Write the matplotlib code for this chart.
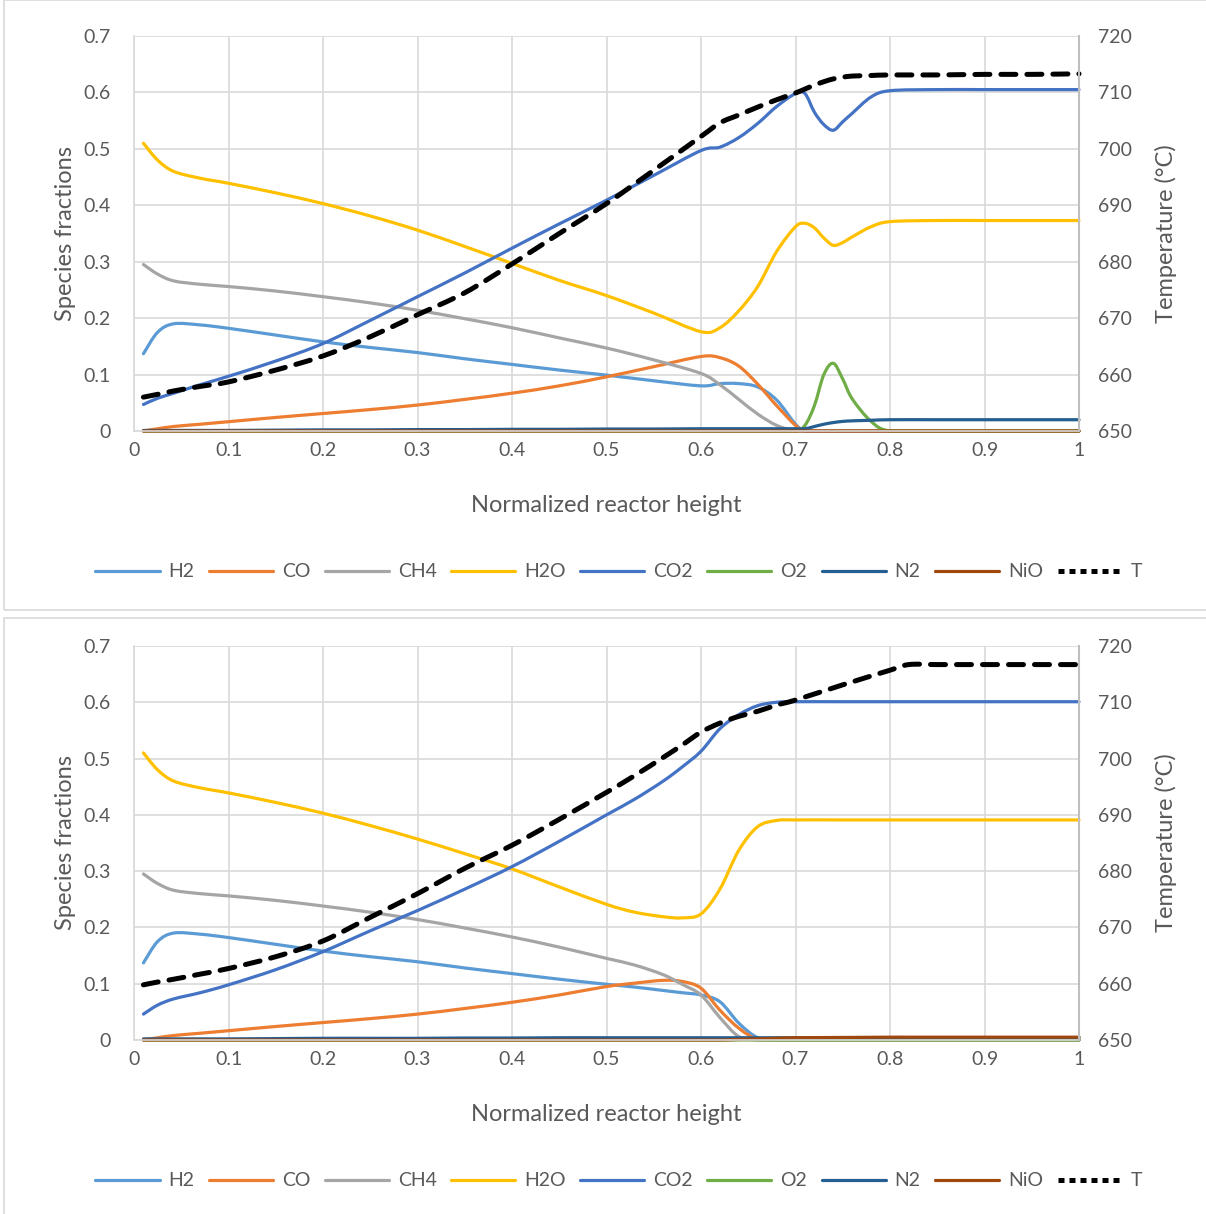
import matplotlib
matplotlib.use("Agg")
import matplotlib.pyplot as plt
from matplotlib.patches import Rectangle, PathPatch
from matplotlib.path import Path
from matplotlib.lines import Line2D

plt.rcParams['font.family'] = ['Lato', 'DejaVu Sans']

# ---- top panel data ----
x_top = [0.01, 0.025, 0.042, 0.07, 0.1, 0.15, 0.2, 0.25, 0.3, 0.35, 0.4, 0.45, 0.5, 0.55,
         0.6, 0.62, 0.64, 0.66, 0.68, 0.70, 0.71, 0.72, 0.73, 0.74, 0.75, 0.76, 0.78, 0.80,
         0.85, 0.9, 0.95, 1.0]
h2_top = [0.137, 0.175, 0.190, 0.188, 0.182, 0.170, 0.158, 0.148, 0.139, 0.128, 0.118, 0.108,
          0.099, 0.089, 0.080, 0.084, 0.084, 0.078, 0.055, 0.012, 0.0, 0.0, 0.0, 0.0, 0.0,
          0.0, 0.0, 0.0, 0.0, 0.0, 0.0, 0.0]
co_top = [0.0, 0.004, 0.008, 0.012, 0.0165, 0.024, 0.031, 0.038, 0.046, 0.056, 0.067, 0.080,
          0.096, 0.114, 0.132, 0.130, 0.115, 0.083, 0.045, 0.010, 0.0, 0.0, 0.0, 0.0, 0.0,
          0.0, 0.0, 0.0, 0.0, 0.0, 0.0, 0.0]
ch4_top = [0.295, 0.278, 0.266, 0.260, 0.256, 0.248, 0.238, 0.227, 0.214, 0.199, 0.183, 0.165,
           0.147, 0.126, 0.102, 0.082, 0.056, 0.030, 0.010, 0.0, 0.0, 0.0, 0.0, 0.0, 0.0,
           0.0, 0.0, 0.0, 0.0, 0.0, 0.0, 0.0]
h2o_top = [0.510, 0.480, 0.460, 0.448, 0.439, 0.422, 0.403, 0.381, 0.356, 0.327, 0.297, 0.267,
           0.240, 0.209, 0.176, 0.183, 0.213, 0.256, 0.318, 0.362, 0.368, 0.360, 0.342, 0.329,
           0.334, 0.344, 0.362, 0.371, 0.373, 0.373, 0.373, 0.373]
co2_top = [0.047, 0.058, 0.067, 0.082, 0.097, 0.124, 0.155, 0.196, 0.238, 0.280, 0.324, 0.367,
           0.409, 0.453, 0.497, 0.503, 0.520, 0.545, 0.575, 0.598, 0.598, 0.565, 0.543, 0.533,
           0.548, 0.563, 0.592, 0.603, 0.605, 0.605, 0.605, 0.605]
o2_top = [0.0, 0.0, 0.0, 0.0, 0.0, 0.0, 0.0, 0.0, 0.0, 0.0, 0.0, 0.0, 0.0, 0.0, 0.0, 0.0,
          0.0, 0.0, 0.0, 0.0, 0.010, 0.045, 0.100, 0.120, 0.092, 0.057, 0.017, 0.0, 0.0,
          0.0, 0.0, 0.0]
n2_top = [0.001, 0.001, 0.001, 0.001, 0.001, 0.0015, 0.002, 0.002, 0.0025, 0.0025, 0.003,
          0.003, 0.0035, 0.0035, 0.004, 0.004, 0.004, 0.004, 0.004, 0.004, 0.004, 0.008,
          0.012, 0.015, 0.017, 0.018, 0.019, 0.020, 0.020, 0.020, 0.020, 0.020]
nio_top = [0.0] * 32
t_top = [656.0, 656.5, 657.1, 657.9, 658.7, 660.8, 663.3, 666.7, 670.6, 674.5, 679.6, 685.0,
         690.3, 696.2, 702.2, 704.6, 706.0, 707.4, 708.7, 709.9, 710.6, 711.3, 711.9, 712.4,
         712.7, 712.9, 713.0, 713.1, 713.1, 713.2, 713.2, 713.3]

# ---- bottom panel data ----
x_bot = [0.01, 0.025, 0.042, 0.07, 0.1, 0.15, 0.2, 0.25, 0.3, 0.35, 0.4, 0.45, 0.5, 0.53,
         0.56, 0.58, 0.60, 0.62, 0.64, 0.66, 0.68, 0.70, 0.75, 0.80, 0.82, 0.85, 0.9, 0.95, 1.0]
h2_bot = [0.137, 0.175, 0.190, 0.188, 0.182, 0.170, 0.158, 0.148, 0.139, 0.128, 0.118, 0.108,
          0.099, 0.094, 0.088, 0.084, 0.080, 0.068, 0.030, 0.004, 0.0, 0.0, 0.0, 0.0, 0.0,
          0.0, 0.0, 0.0, 0.0]
co_bot = [0.0, 0.004, 0.008, 0.012, 0.0165, 0.024, 0.031, 0.038, 0.046, 0.056, 0.067, 0.080,
          0.095, 0.101, 0.106, 0.104, 0.092, 0.053, 0.021, 0.001, 0.0, 0.0, 0.0, 0.0, 0.0,
          0.0, 0.0, 0.0, 0.0]
ch4_bot = [0.295, 0.278, 0.266, 0.260, 0.256, 0.248, 0.238, 0.227, 0.214, 0.199, 0.183, 0.165,
           0.145, 0.133, 0.116, 0.099, 0.080, 0.040, 0.006, 0.0, 0.0, 0.0, 0.0, 0.0, 0.0,
           0.0, 0.0, 0.0, 0.0]
h2o_bot = [0.510, 0.480, 0.460, 0.448, 0.439, 0.422, 0.403, 0.381, 0.357, 0.331, 0.304, 0.272,
           0.241, 0.227, 0.219, 0.217, 0.224, 0.268, 0.337, 0.379, 0.390, 0.391, 0.391, 0.391,
           0.391, 0.391, 0.391, 0.391, 0.391]
co2_bot = [0.046, 0.062, 0.073, 0.084, 0.098, 0.125, 0.157, 0.194, 0.230, 0.268, 0.308, 0.353,
           0.400, 0.428, 0.460, 0.485, 0.513, 0.553, 0.578, 0.594, 0.600, 0.601, 0.601, 0.601,
           0.601, 0.601, 0.601, 0.601, 0.601]
o2_bot = [0.0] * 29
n2_bot = [0.002, 0.002, 0.002, 0.002, 0.002, 0.0025, 0.003, 0.003, 0.003, 0.0035, 0.0035,
          0.004, 0.004, 0.004, 0.004, 0.004, 0.004, 0.004, 0.004, 0.004, 0.004, 0.004, 0.004,
          0.004, 0.004, 0.004, 0.004, 0.004, 0.004]
nio_bot = [0.0, 0.0, 0.0, 0.0, 0.0, 0.0, 0.0, 0.0, 0.0, 0.0, 0.0, 0.0, 0.0, 0.0, 0.0, 0.0,
           0.0, 0.0, 0.001, 0.002, 0.003, 0.004, 0.0045, 0.005, 0.005, 0.005, 0.005, 0.005,
           0.005]
t_bot = [659.8, 660.3, 660.8, 661.7, 662.7, 664.8, 667.6, 671.8, 676.0, 680.5, 684.6, 689.2,
         694.0, 697.0, 700.2, 702.4, 704.7, 706.3, 707.5, 708.4, 709.5, 710.4, 713.1, 715.7,
         716.7, 716.7, 716.7, 716.7, 716.7]

species = ['H2', 'CO', 'CH4', 'H2O', 'CO2', 'O2', 'N2', 'NiO']
colors = ['#5B9BD5', '#ED7D31', '#A5A5A5', '#FFC000', '#4472C4', '#70AD47', '#255E91', '#9E480E']
legend_labels = ['H2', 'CO', 'CH4', 'H2O', 'CO2', 'O2', 'N2', 'NiO', 'T']

top_series = [h2_top, co_top, ch4_top, h2o_top, co2_top, o2_top, n2_top, nio_top]
bot_series = [h2_bot, co_bot, ch4_bot, h2o_bot, co2_bot, o2_bot, n2_bot, nio_bot]

fig = plt.figure(figsize=(12.06, 12.14), dpi=100)
W, H = 1206.0, 1214.0

# panel frames
fig.patches.append(Rectangle((4 / W, 1 - 610 / H), 1.0, 610 / H, transform=fig.transFigure,
                             fill=False, edgecolor='#d9d9d9', lw=1.2))
fig.patches.append(Rectangle((4 / W, -0.01), 1.0, (1214 - 618) / H + 0.01,
                             transform=fig.transFigure, fill=False, edgecolor='#d9d9d9', lw=1.2))

grey = '#595959'
grid_c = '#d9d9d9'


def smooth_path(x, y, lo, hi):
    # excel style smoothed line: bezier segments through the points
    n = len(x)
    verts = [(x[0], y[0])]
    codes = [Path.MOVETO]
    for i in range(n - 1):
        i0 = max(i - 1, 0)
        i3 = min(i + 2, n - 1)
        c1x = x[i] + (x[i + 1] - x[i0]) / 6
        c1y = y[i] + (y[i + 1] - y[i0]) / 6
        c2x = x[i + 1] - (x[i3] - x[i]) / 6
        c2y = y[i + 1] - (y[i3] - y[i]) / 6
        c1y = min(max(c1y, lo), hi)
        c2y = min(max(c2y, lo), hi)
        verts += [(c1x, c1y), (c2x, c2y), (x[i + 1], y[i + 1])]
        codes += [Path.CURVE4] * 3
    return Path(verts, codes)


def draw_panel(ax_rect, x, series, temp, leg_y):
    ax = fig.add_axes(ax_rect)
    handles = []
    for name, col, ys in zip(species, colors, series):
        p = PathPatch(smooth_path(x, ys, 0, 0.7), facecolor='none', edgecolor=col, lw=2.3,
                      clip_on=False, capstyle='round', joinstyle='round')
        ax.add_patch(p)
        handles.append(Line2D([], [], color=col, lw=2.3, solid_capstyle='round'))
    ax.set_xlim(0, 1)
    ax.set_ylim(0, 0.7)
    ax.set_xticks([i / 10 for i in range(11)])
    ax.set_xticklabels(['0', '0.1', '0.2', '0.3', '0.4', '0.5', '0.6', '0.7', '0.8', '0.9', '1'])
    ax.set_yticks([i / 10 for i in range(8)])
    ax.set_yticklabels(['0', '0.1', '0.2', '0.3', '0.4', '0.5', '0.6', '0.7'])
    ax.grid(True, color=grid_c, lw=1.2)
    ax.set_axisbelow(True)
    ax.spines['top'].set_visible(False)
    for s in ['left', 'bottom', 'right']:
        ax.spines[s].set_color(grid_c)
        ax.spines[s].set_linewidth(1.2)
    ax.tick_params(length=0, labelsize=14, colors=grey)
    ax.tick_params(axis='x', pad=8)
    ax.tick_params(axis='y', pad=17)
    ax.set_xlabel('Normalized reactor height', fontsize=17, color=grey, labelpad=26)
    ax.set_ylabel('Species fractions', fontsize=17, color=grey, labelpad=5)

    ax2 = ax.twinx()
    tp = PathPatch(smooth_path(x, temp, 650, 720), facecolor='none', edgecolor='black', lw=3.6,
                   ls=(0, (3.0, 2.2)), clip_on=False, capstyle='round')
    ax2.add_patch(tp)
    handles.append(Line2D([], [], color='black', lw=3.6, ls=(0, (1.2, 1.0))))
    ax2.set_ylim(650, 720)
    ax2.set_yticks(range(650, 721, 10))
    ax2.tick_params(length=0, labelsize=14, colors=grey, pad=14)
    for s in ['top', 'left', 'bottom']:
        ax2.spines[s].set_visible(False)
    ax2.spines['right'].set_color('#bfbfbf')
    ax2.spines['right'].set_linewidth(1.5)
    ax2.set_ylabel('Temperature (°C)', fontsize=17, color=grey, labelpad=16)

    fig.legend(handles, legend_labels, loc='center', bbox_to_anchor=(0.513, leg_y), ncol=9,
               frameon=False, fontsize=14, handlelength=3.3, columnspacing=0.75,
               handletextpad=0.45, labelcolor=grey)


draw_panel([134 / W, 1 - 431 / H, 945 / W, 395 / H], x_top, top_series, t_top, 1 - 572 / H)
draw_panel([134 / W, 1 - 1040 / H, 945 / W, 394 / H], x_bot, bot_series, t_bot, 1 - 1181 / H)

fig.savefig('out.png', dpi=100)
